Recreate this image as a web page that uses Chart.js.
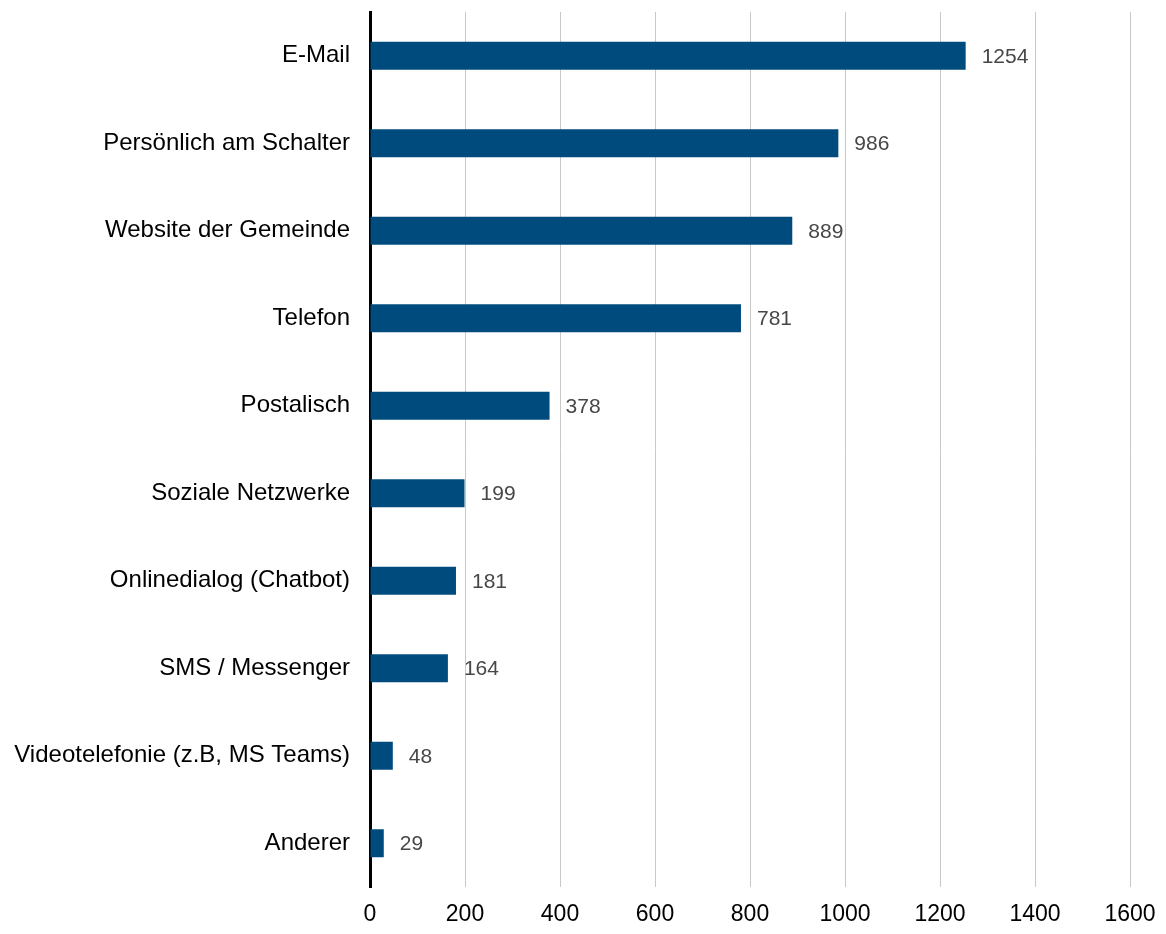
<!DOCTYPE html>
<html>
<head>
<meta charset="utf-8">
<script src="https://cdn.jsdelivr.net/npm/chart.js@4/dist/chart.umd.min.js"></script>
<style>
html,body{margin:0;padding:0;background:#fff;}
#wrap{width:1166px;height:934px;position:relative;}
</style>
</head>
<body>
<div id="wrap"><canvas id="c" width="1166" height="934"></canvas></div>
<script>
const categories = ["E-Mail","Persönlich am Schalter","Website der Gemeinde","Telefon","Postalisch","Soziale Netzwerke","Onlinedialog (Chatbot)","SMS / Messenger","Videotelefonie (z.B, MS Teams)","Anderer"];
const values = [1254,986,889,781,378,199,181,164,48,29];
const xTicks = [0,200,400,600,800,1000,1200,1400,1600];

const FONT = "'Liberation Sans', Arial, sans-serif";

const valueLabels = {
  id: 'valueLabels',
  afterDatasetsDraw(chart) {
    const ctx = chart.ctx;
    const meta = chart.getDatasetMeta(0);
    ctx.save();
    ctx.font = "21px " + FONT;
    ctx.fillStyle = "#474747";
    ctx.textAlign = "left";
    ctx.textBaseline = "middle";
    meta.data.forEach((bar, i) => {
      ctx.fillText(String(values[i]), bar.x + 16, bar.y + 1);
    });
    ctx.restore();
  }
};

function noPad(scale) {
  scale.paddingTop = 0; scale.paddingBottom = 0;
  scale.paddingLeft = 0; scale.paddingRight = 0;
}

new Chart(document.getElementById('c'), {
  type: 'bar',
  data: {
    labels: categories,
    datasets: [{
      data: values,
      backgroundColor: '#004B7E',
      borderWidth: 0,
      barPercentage: 0.32,
      categoryPercentage: 1.0
    }]
  },
  options: {
    indexAxis: 'y',
    responsive: false,
    animation: false,
    devicePixelRatio: 1,
    layout: { autoPadding: false, padding: { top: 12, right: 36, left: 0, bottom: 0 } },
    plugins: { legend: { display: false }, tooltip: { enabled: false } },
    scales: {
      x: {
        min: 0, max: 1600,
        afterBuildTicks(scale) { scale.ticks = xTicks.map(v => ({ value: v })); },
        afterFit(scale) { scale.height = 47; noPad(scale); },
        grid: { color: '#c8c8c8', lineWidth: 1, drawTicks: false },
        border: { display: false },
        ticks: { color: '#000', font: { family: FONT, size: 23 }, padding: 14, callback: v => String(v), maxRotation: 0, autoSkip: false }
      },
      y: {
        afterFit(scale) { scale.width = 370; noPad(scale); },
        grid: { display: false, drawTicks: false },
        border: { display: true, color: '#000', width: 3 },
        ticks: { color: '#000', font: { family: FONT, size: 24 }, padding: 20, autoSkip: false }
      }
    }
  },
  plugins: [valueLabels]
});
</script>
</body>
</html>
